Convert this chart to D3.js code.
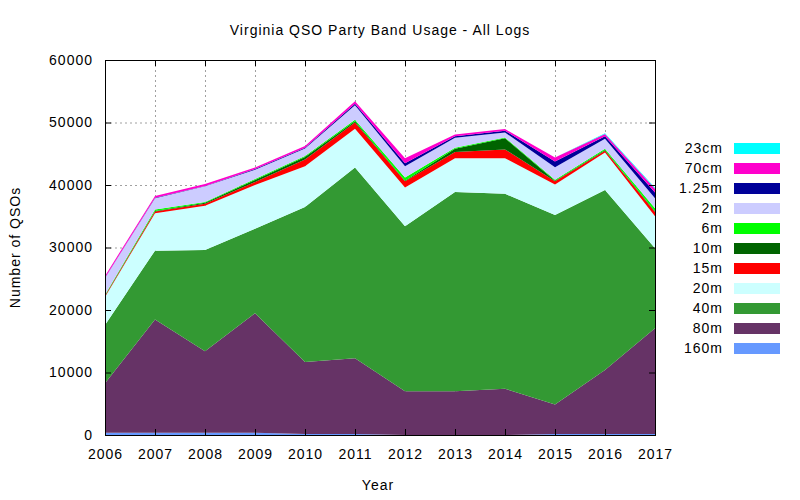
<!DOCTYPE html>
<html>
<head>
<meta charset="utf-8">
<script src="https://cdn.jsdelivr.net/npm/d3@7"></script>
<style>
  body { margin: 0; background: #fff; }
  svg text { font-family: "Liberation Sans", Arial, sans-serif; font-size: 14px; fill: #000; letter-spacing: 1px; }
</style>
</head>
<body>
<div id="chart"></div>
<script>
// years on the x axis
var years = [2006, 2007, 2008, 2009, 2010, 2011, 2012, 2013, 2014, 2015, 2016, 2017];

// QSOs per band (not cumulative)
var band160m = [350, 350, 350, 350, 150, 150, 0, 0, 0, 150, 150, 150];
var band80m  = [7950, 18150, 13050, 19150, 11550, 12150, 7000, 7000, 7400, 4750, 10250, 16950];
var band40m  = [9300, 11000, 16200, 13500, 24800, 30500, 26400, 31900, 31200, 30300, 28800, 12800];
var band20m  = [4500, 6000, 7100, 7000, 6500, 6200, 6200, 5400, 5700, 4900, 6000, 5100];
var band15m  = [150, 250, 300, 500, 1100, 1000, 1000, 1000, 1400, 500, 300, 700];
var band10m  = [80, 100, 150, 300, 400, 200, 100, 500, 1800, 100, 100, 100];
var band6m   = [100, 250, 150, 150, 150, 250, 500, 150, 100, 150, 200, 500];
var band2m   = [2700, 1800, 2500, 1500, 1200, 2300, 1800, 1600, 800, 2000, 1600, 1600];
var band125m = [30, 50, 50, 100, 100, 250, 500, 250, 300, 900, 400, 900];
var band70cm = [300, 300, 300, 250, 300, 400, 800, 300, 250, 650, 350, 600];
var band23cm = [0, 0, 0, 0, 0, 0, 0, 0, 0, 0, 150, 150];

// stacking order, bottom to top
var bands = ["160m", "80m", "40m", "20m", "15m", "10m", "6m", "2m", "1.25m", "70cm", "23cm"];
var bandValues = [band160m, band80m, band40m, band20m, band15m, band10m, band6m, band2m, band125m, band70cm, band23cm];
var bandColors = ["#6699ff", "#663366", "#339933", "#ccffff", "#ff0000", "#006400", "#00ff00", "#ccccff", "#000099", "#ff00cc", "#00ffff"];

var yTicks = [0, 10000, 20000, 30000, 40000, 50000, 60000];

var width = 800,
    height = 500,
    margin = {top: 60, right: 145, bottom: 65, left: 105},
    chartWidth = width - margin.left - margin.right,
    chartHeight = height - margin.top - margin.bottom;

var rows = years.map(function(yr, i){
  var r = {year: yr};
  bands.forEach(function(b, j){ r[b] = bandValues[j][i]; });
  return r;
});

var svg = d3.select("#chart").append("svg")
    .attr("width", width)
    .attr("height", height);

var chart = svg.append("g")
    .attr("transform", "translate(" + margin.left + "," + margin.top + ")");

var x = d3.scaleLinear()
    .domain([d3.min(years), d3.max(years)])
    .range([0, chartWidth]);

var y = d3.scaleLinear()
    .domain([0, 60000])
    .range([chartHeight, 0]);

// grid
chart.append("g").attr("class", "grid")
  .selectAll("line.h")
  .data(yTicks)
  .enter().append("line")
    .attr("x1", 0).attr("x2", chartWidth)
    .attr("y1", function(d){ return y(d) + 0.5; })
    .attr("y2", function(d){ return y(d) + 0.5; });

chart.select("g.grid")
  .selectAll("line.v")
  .data(years)
  .enter().append("line")
    .attr("x1", function(d){ return Math.round(x(d)) + 0.5; })
    .attr("x2", function(d){ return Math.round(x(d)) + 0.5; })
    .attr("y1", 0).attr("y2", chartHeight);

chart.selectAll("g.grid line")
  .attr("stroke", "#a0a0a0")
  .attr("stroke-width", 1)
  .attr("stroke-dasharray", "2,3");

// stacked areas
var stack = d3.stack().keys(bands);
var layers = stack(rows);

var area = d3.area()
    .x(function(d){ return x(d.data.year); })
    .y0(function(d){ return y(d[0]); })
    .y1(function(d){ return y(d[1]); });

chart.selectAll("path.layer")
  .data(layers)
  .enter().append("path")
    .attr("class", "layer")
    .attr("fill", function(d, i){ return bandColors[i]; })
    .attr("d", area);

// axes, ticks drawn inward and mirrored
var xAxis = d3.axisBottom(x)
    .tickValues(years)
    .tickFormat(d3.format("d"))
    .tickSize(-6)
    .tickPadding(14);

var yAxis = d3.axisLeft(y)
    .tickValues(yTicks)
    .tickFormat(d3.format("d"))
    .tickSize(-6)
    .tickPadding(12);

chart.append("g")
    .attr("transform", "translate(0," + chartHeight + ")")
    .call(xAxis);

chart.append("g").call(yAxis);

chart.append("g").call(d3.axisTop(x).tickValues(years).tickSize(-6).tickFormat(""));
chart.append("g").attr("transform", "translate(" + chartWidth + ",0)")
  .call(d3.axisRight(y).tickValues(yTicks).tickSize(-6).tickFormat(""));

chart.selectAll(".domain").remove();
chart.selectAll(".tick line").attr("stroke", "#000");
chart.selectAll(".tick text").attr("font-size", 14).attr("font-family", "Liberation Sans, Arial, sans-serif");

chart.append("rect")
    .attr("x", 0.5).attr("y", 0.5)
    .attr("width", chartWidth).attr("height", chartHeight)
    .attr("fill", "none")
    .attr("stroke", "#000");

// titles
svg.append("text")
    .attr("x", margin.left + chartWidth / 2)
    .attr("y", 35)
    .attr("text-anchor", "middle")
    .text("Virginia QSO Party Band Usage - All Logs");

svg.append("text")
    .attr("x", 378)
    .attr("y", 490)
    .attr("text-anchor", "middle")
    .text("Year");

svg.append("text")
    .attr("transform", "translate(20," + (margin.top + chartHeight / 2) + ") rotate(-90)")
    .attr("text-anchor", "middle")
    .text("Number of QSOs");

// legend, top entry is the top layer
var legend = svg.append("g").attr("class", "legend");
var legendItems = legend.selectAll("g")
  .data(bands.slice().reverse())
  .enter().append("g")
    .attr("transform", function(d, i){ return "translate(0," + (148 + i * 20) + ")"; });

legendItems.append("text")
    .attr("x", 723)
    .attr("y", 5)
    .attr("text-anchor", "end")
    .text(function(d){ return d; });

legendItems.append("rect")
    .attr("x", 734)
    .attr("y", -5)
    .attr("width", 46)
    .attr("height", 11)
    .attr("fill", function(d){ return bandColors[bands.indexOf(d)]; });
</script>
</body>
</html>
